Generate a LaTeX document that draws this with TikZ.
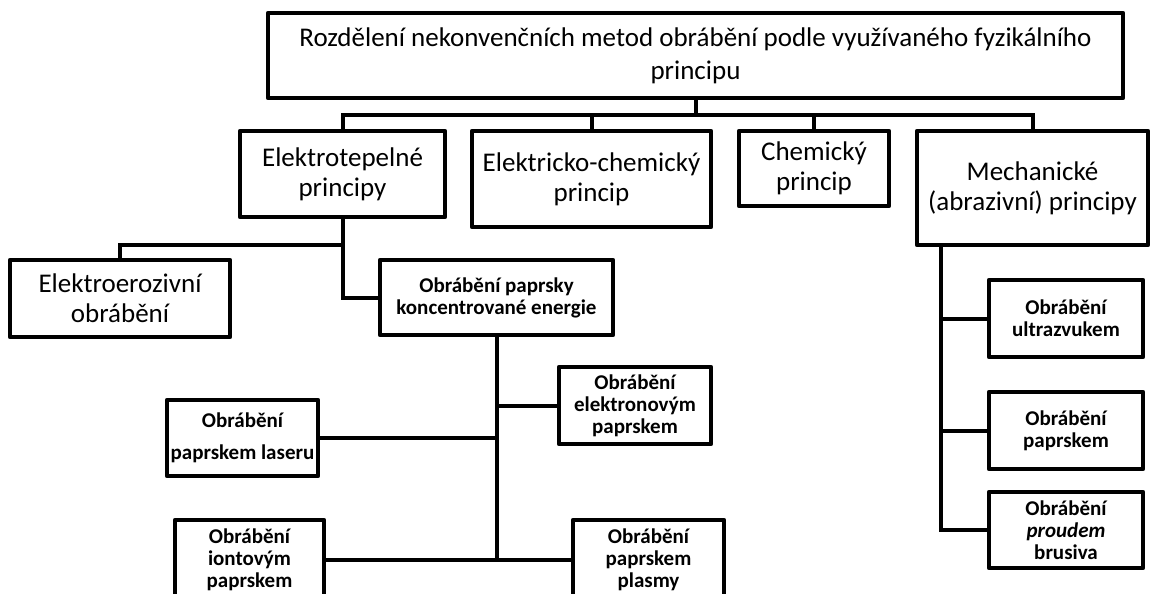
\documentclass[tikz,border=0pt]{standalone}
\usepackage{fontspec}
\setmainfont{Carlito}
\usepackage{tikz}

\tikzset{
  wh/.style 2 args={minimum width=#1*0.5pt, minimum height=#2*0.5pt},
  topbox/.style={draw, line width=2.25pt, line join=round, align=center, inner sep=0pt,
    font=\fontsize{13.5}{16.5}\selectfont},
  princbox/.style={draw, line width=2.25pt, line join=round, align=center, inner sep=0pt,
    font=\fontsize{13.5}{15}\selectfont},
  methbox/.style={draw, line width=2.25pt, line join=round, align=center, inner sep=0pt,
    font=\bfseries\fontsize{10.5}{11}\selectfont},
  link/.style={line width=2pt}
}

\begin{document}
\begin{tikzpicture}[x=0.5pt, y=-0.5pt]
  \useasboundingbox (0,0) rectangle (1151,594);
  \clip (0,0) rectangle (1151,594);

  % Main box
  \node[topbox, wh={855}{85}] (top) at (695.5,55.5) {Rozdělení nekonvenčních metod obrábění podle využívaného fyzikálního\\ principu};

  % Principles
  \node[princbox, wh={205}{86}] (elt) at (342.5,174) {Elektrotepelné\\ principy};
  \node[princbox, wh={239}{96}] (elch) at (591.5,179) {Elektricko-chemický\\ princip};
  \node[princbox, wh={150}{75}] (chem) at (814,168.5) {Chemický\\ princip};
  \node[princbox, wh={231}{114}] (mech) at (1032.5,188) {Mechanické\\ (abrazivní) principy};

  % Elektrotepelne branch
  \node[princbox, wh={220}{77}] (eroz) at (120,298.5) {Elektroerozivní\\ obrábění};
  \node[methbox, wh={233}{75}] (konc) at (496.5,297.5) {Obrábění paprsky\\ koncentrované energie};

  % Beams
  \node[methbox, wh={152}{77}] (elektron) at (635,405.5) {Obrábění\\ elektronovým\\ paprskem};
  \node[methbox, wh={151}{76}] (laser) at (242.5,438) {Obrábění\\[5pt] paprskem laseru};
  \node[methbox, wh={149}{80}] (iont) at (249.5,560) {Obrábění\\ iontovým\\ paprskem};
  \node[methbox, wh={151}{80}] (plasm) at (648.5,560) {Obrábění\\ paprskem\\ plasmy};

  % Mechanical
  \node[methbox, wh={154}{77}] (ultra) at (1066,318.5) {Obrábění\\ ultrazvukem};
  \node[methbox, wh={154}{77}] (papr) at (1066,430.5) {Obrábění\\ paprskem};
  \node[methbox, wh={154}{76}] (brus) at (1066,530) {Obrábění\\ \itshape proudem\\ brusiva};

  % Connectors
  \coordinate (bus) at (0,115);
  \coordinate (ebus) at (0,245);
  \coordinate (mstem) at ([xshift=13pt]mech.south west);
  \foreach \n in {elt,elch,chem,mech}
    \draw[link] (top.south) -- (top.south |- bus) -| (\n.north);
  \draw[link] (elt.south) -- (elt.south |- ebus) -| (eroz.north);
  \draw[link] (elt.south) |- (konc.west);
  \foreach \n in {elektron,plasm}
    \draw[link] (konc.south) |- (\n.west);
  \foreach \n in {laser,iont}
    \draw[link] (konc.south) |- (\n.east);
  \foreach \n in {ultra,papr,brus}
    \draw[link] (mstem) |- (\n.west);
\end{tikzpicture}
\end{document}
